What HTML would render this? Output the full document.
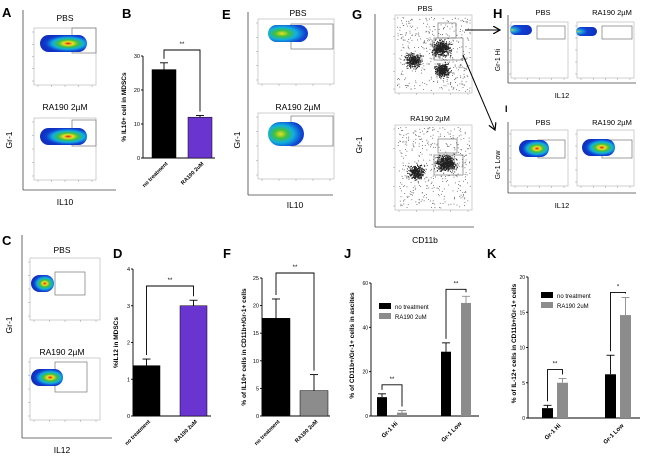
<!DOCTYPE html>
<html><head><meta charset="utf-8">
<style>
html,body{margin:0;padding:0;background:#fff;}
svg{display:block;font-family:"Liberation Sans",Arial,sans-serif;}
</style></head>
<body>
<svg id="fig" width="650" height="457" viewBox="0 0 650 457" xmlns="http://www.w3.org/2000/svg">
<defs>
<radialGradient id="heat" cx="0.6" cy="0.5" r="0.55">
<stop offset="0" stop-color="#e01010"/><stop offset="0.18" stop-color="#f0e020"/><stop offset="0.38" stop-color="#40c040"/><stop offset="0.6" stop-color="#10b0e0"/><stop offset="0.85" stop-color="#1040d0"/><stop offset="1" stop-color="#1030c0"/>
</radialGradient>
<radialGradient id="heatB" cx="0.35" cy="0.5" r="0.6">
<stop offset="0" stop-color="#f0e020"/><stop offset="0.3" stop-color="#40c040"/><stop offset="0.6" stop-color="#10b0e0"/><stop offset="1" stop-color="#1040d0"/>
</radialGradient>
<radialGradient id="heatC" cx="0.1" cy="0.5" r="0.9">
<stop offset="0" stop-color="#e0c020"/><stop offset="0.15" stop-color="#20b0e0"/><stop offset="0.5" stop-color="#1040d0"/><stop offset="1" stop-color="#1030c0"/>
</radialGradient>
<marker id="arr" markerWidth="8" markerHeight="8" refX="7" refY="4" orient="auto"><path d="M0,0 L7,4 L0,8" fill="none" stroke="#000" stroke-width="1.2"/></marker>
</defs>
<g id="root"></g>
</svg>
<script>
// ---- Chart data ----
const bCategories = ["no treatment", "RA190 2uM"];
const bValues = [26, 12];
const bErrors = [2, 0.5];
const bTicks = [0, 10, 20, 30];

const dCategories = ["no treatment", "RA190 2uM"];
const dValues = [1.37, 3.0];
const dErrors = [0.18, 0.15];
const dTicks = [0, 1, 2, 3, 4];

const fCategories = ["no treatment", "RA190 2uM"];
const fValues = [17.7, 4.6];
const fErrors = [3.5, 2.9];
const fTicks = [0, 5, 10, 15, 20, 25];

const jGroups = ["Gr-1 Hi", "Gr-1 Low"];
const jNoTreatment = [8.5, 29];
const jNoTreatmentErr = [1.5, 4];
const jRA190 = [1.5, 51];
const jRA190Err = [1, 3];
const jTicks = [0, 20, 40, 60];

const kGroups = ["Gr-1 Hi", "Gr-1 Low"];
const kNoTreatment = [1.4, 6.2];
const kNoTreatmentErr = [0.4, 2.7];
const kRA190 = [5.0, 14.6];
const kRA190Err = [0.6, 2.5];
const kTicks = [0, 5, 10, 15, 20];

const NS = "http://www.w3.org/2000/svg";
const root = document.getElementById("root");
function el(tag, attrs, parent, text) {
  const e = document.createElementNS(NS, tag);
  for (const k in attrs) e.setAttribute(k, attrs[k]);
  if (text !== undefined) e.textContent = text;
  (parent || root).appendChild(e);
  return e;
}
function grp(name, parent) {
  const g = el("g", {}, parent);
  
  
  return g;
}
function txt(parent, name, x, y, s, size, opts) {
  opts = opts || {};
  const t = el("text", {x: x, y: y, "font-size": size, "text-anchor": opts.anchor || "middle", "font-weight": opts.bold ? "bold" : "normal", fill: opts.fill || "#000"}, parent, s);
  if (opts.rot !== undefined) t.setAttribute("transform", "rotate(" + opts.rot + " " + x + " " + y + ")");
  
  
  return t;
}
function line(parent, x1, y1, x2, y2, w, c) {
  return el("line", {x1: x1, y1: y1, x2: x2, y2: y2, stroke: c || "#000", "stroke-width": w || 1}, parent);
}
let seed = 7;
function rnd() { seed = (seed * 16807) % 2147483647; return seed / 2147483647; }
function gauss() { return (rnd() + rnd() + rnd() - 1.5) / 1.5; }

function flowPlot(parent, name, x, y, w, h, gate) {
  const g = grp(name, parent);
  el("rect", {x: x, y: y, width: w, height: h, fill: "#fff", stroke: "#bbb", "stroke-width": 0.7}, g);
  for (let i = 0; i < 5; i++) {
    line(g, x - 2, y + 4 + i * (h - 8) / 4, x, y + 4 + i * (h - 8) / 4, 0.5, "#999");
    line(g, x + 4 + i * (w - 8) / 4, y + h, x + 4 + i * (w - 8) / 4, y + h + 2, 0.5, "#999");
  }
  if (gate) {
    const r = el("rect", {x: gate[0], y: gate[1], width: gate[2], height: gate[3], fill: "none", stroke: "#777", "stroke-width": 0.7}, g);
    
    
  }
  return g;
}
function blob(g, x, y, w, h, fill) {
  const e = el("rect", {x: x, y: y, width: w, height: h, rx: h / 2, ry: h / 2, fill: fill}, g);
  
  
}
function scatter(g, clusters, bg, box) {
  for (let i = 0; i < bg; i++) {
    el("rect", {x: box[0] + rnd() * box[2], y: box[1] + rnd() * box[3], width: 0.9, height: 0.9, fill: "#666"}, g);
  }
  clusters.forEach(c => {
    for (let i = 0; i < c[4]; i++) {
      el("rect", {x: c[0] + gauss() * c[2], y: c[1] + gauss() * c[3], width: 1, height: 1, fill: "#222"}, g);
    }
  });
}

// ---- Panel A ----
(function () {
  const g = grp("panel-a");
  txt(g, "panel-label-a", 2, 17, "A", 13, {bold: true, anchor: "start"});
  line(g, 23, 10, 23, 190, 0.8, "#444"); line(g, 23, 190, 116, 190, 0.8, "#444");
  txt(g, "title-pbs", 65, 21, "PBS", 8.5);
  const p1 = flowPlot(g, "flow-plot-pbs", 34, 28, 62, 57, [72, 28, 24, 25]);
  blob(p1, 40, 35, 47, 17, "url(#heat)");
  txt(g, "title-ra190", 65, 110, "RA190 2µM", 8.5);
  const p2 = flowPlot(g, "flow-plot-ra190", 34, 118, 62, 62, [72, 120, 24, 26]);
  blob(p2, 40, 128, 47, 17, "url(#heat)");
  txt(g, "y-axis-title", 12, 140, "Gr-1", 8.5, {rot: -90});
  txt(g, "x-axis-title", 65, 205, "IL10", 8.5);
})();

// ---- Panel E ----
(function () {
  const g = grp("panel-e");
  txt(g, "panel-label-e", 222, 19, "E", 13, {bold: true, anchor: "start"});
  line(g, 248, 12, 248, 195, 0.8, "#444"); line(g, 248, 195, 333, 195, 0.8, "#444");
  txt(g, "title-pbs", 298, 16, "PBS", 8.5);
  const p1 = flowPlot(g, "flow-plot-pbs", 258, 19, 76, 65, [291, 24, 42, 25]);
  blob(p1, 268, 25, 40, 17, "url(#heatB)");
  txt(g, "title-ra190", 298, 110, "RA190 2µM", 8.5);
  const p2 = flowPlot(g, "flow-plot-ra190", 258, 113, 76, 66, [291, 116, 42, 30]);
  blob(p2, 268, 122, 36, 24, "url(#heatB)");
  txt(g, "y-axis-title", 240, 140, "Gr-1", 8.5, {rot: -90});
  txt(g, "x-axis-title", 295, 208, "IL10", 8.5);
})();

// ---- Panel G ----
(function () {
  const g = grp("panel-g");
  txt(g, "panel-label-g", 352, 19, "G", 13, {bold: true, anchor: "start"});
  line(g, 375, 14, 375, 227, 0.8, "#444"); line(g, 375, 227, 474, 227, 0.8, "#444");
  txt(g, "title-pbs", 425, 11, "PBS", 7.5);
  const p1 = flowPlot(g, "scatter-plot-pbs", 395, 15, 77, 78, [438, 23, 18, 15]);
  el("rect", {x: 434, y: 38, width: 29, height: 22, fill: "none", stroke: "#777", "stroke-width": 0.7}, p1);
  scatter(p1, [[413, 60, 11, 10, 320], [442, 70, 10, 9, 380], [441, 48, 13, 11, 450]], 420, [397, 17, 73, 74]);
  txt(g, "title-ra190", 430, 121, "RA190 2µM", 7.5);
  const p2 = flowPlot(g, "scatter-plot-ra190", 395, 125, 77, 85, [438, 139, 19, 14]);
  el("rect", {x: 434, y: 155, width: 29, height: 20, fill: "none", stroke: "#777", "stroke-width": 0.7}, p2);
  scatter(p2, [[416, 172, 11, 10, 330], [446, 163, 13, 11, 560]], 420, [397, 127, 73, 81]);
  txt(g, "y-axis-title", 362, 145, "Gr-1", 8.5, {rot: -90});
  txt(g, "x-axis-title", 425, 243, "CD11b", 8.5);
  const a1 = el("line", {x1: 465, y1: 30, x2: 500, y2: 30, stroke: "#000", "stroke-width": 1, "marker-end": "url(#arr)"}, g);
   
  const a2 = el("line", {x1: 463, y1: 55, x2: 495, y2: 130, stroke: "#000", "stroke-width": 1, "marker-end": "url(#arr)"}, g);
   
})();

// ---- Panel H / I ----
(function () {
  const g = grp("panel-h");
  txt(g, "panel-label-h", 493, 18, "H", 13, {bold: true, anchor: "start"});
  line(g, 508, 15, 508, 83, 0.8, "#444"); line(g, 508, 83, 636, 83, 0.8, "#444");
  txt(g, "title-pbs", 543, 15, "PBS", 7.5);
  txt(g, "title-ra190", 612, 15, "RA190 2µM", 7.5);
  const p1 = flowPlot(g, "flow-plot-pbs", 511, 22, 57, 56, [537, 26, 28, 13]);
  blob(p1, 510, 25, 22, 10, "url(#heatC)");
  const p2 = flowPlot(g, "flow-plot-ra190", 577, 22, 57, 56, [602, 26, 30, 13]);
  blob(p2, 576, 27, 21, 9, "url(#heatC)");
  txt(g, "y-axis-title", 500, 60, "Gr-1 Hi", 7, {rot: -90});
  txt(g, "x-axis-title", 562, 98, "IL12", 7.5);
  const gi = grp("panel-i");
  txt(gi, "panel-label-i", 505, 112, "I", 9, {bold: true, anchor: "start"});
  line(gi, 508, 122, 508, 193, 0.8, "#444"); line(gi, 508, 193, 636, 193, 0.8, "#444");
  txt(gi, "title-pbs", 543, 125, "PBS", 7.5);
  txt(gi, "title-ra190", 612, 125, "RA190 2µM", 7.5);
  const q1 = flowPlot(gi, "flow-plot-pbs", 511, 130, 57, 56, [538, 140, 27, 18]);
  blob(q1, 519, 140, 30, 17, "url(#heat)");
  const q2 = flowPlot(gi, "flow-plot-ra190", 577, 130, 57, 56, [602, 140, 30, 18]);
  blob(q2, 582, 139, 33, 17, "url(#heat)");
  txt(gi, "y-axis-title", 500, 165, "Gr-1 Low", 7, {rot: -90});
  txt(gi, "x-axis-title", 562, 208, "IL12", 7.5);
})();

// ---- Panel C ----
(function () {
  const g = grp("panel-c");
  txt(g, "panel-label-c", 2, 245, "C", 13, {bold: true, anchor: "start"});
  line(g, 22, 235, 22, 438, 0.8, "#444"); line(g, 22, 438, 112, 438, 0.8, "#444");
  txt(g, "title-pbs", 62, 253, "PBS", 8.5);
  const p1 = flowPlot(g, "flow-plot-pbs", 30, 258, 70, 62, [55, 272, 30, 23]);
  blob(p1, 31, 275, 23, 17, "url(#heat)");
  txt(g, "title-ra190", 62, 355, "RA190 2µM", 8.5);
  const p2 = flowPlot(g, "flow-plot-ra190", 30, 358, 70, 62, [55, 362, 32, 30]);
  blob(p2, 31, 369, 32, 17, "url(#heat)");
  txt(g, "y-axis-title", 12, 325, "Gr-1", 8.5, {rot: -90});
  txt(g, "x-axis-title", 62, 453, "IL12", 8.5);
})();

function simpleBar(cfg) {
  const g = grp(cfg.name);
  txt(g, "panel-label", cfg.labelX, cfg.labelY, cfg.label, 13, {bold: true, anchor: "start"});
  const max = cfg.ticks[cfg.ticks.length - 1];
  const yS = v => cfg.y0 - (v / max) * (cfg.y0 - cfg.yTop);
  const ax = grp("y-axis", g);
  line(ax, cfg.axX, cfg.yTop, cfg.axX, cfg.y0, 0.9);
  cfg.ticks.forEach(t => {
    line(ax, cfg.axX - 2, yS(t), cfg.axX, yS(t), 0.9);
    txt(ax, "y-tick-label", cfg.axX - 3, yS(t) + 2, String(t), 5.5, {anchor: "end"});
  });
  line(g, cfg.axX, cfg.y0, cfg.axX + cfg.width, cfg.y0, 0.9);
  txt(g, "y-axis-title", cfg.titleX, (cfg.yTop + cfg.y0) / 2, cfg.title, 6.5, {rot: -90, bold: true});
  const tops = [];
  cfg.values.forEach((v, i) => {
    const x = cfg.axX + cfg.barStart + i * cfg.barGap;
    const b = el("rect", {x: x, y: yS(v), width: cfg.barW, height: cfg.y0 - yS(v), fill: cfg.colors[i], stroke: "#000", "stroke-width": 0.5}, g);
    
    
    const cx = x + cfg.barW / 2, et = yS(v + cfg.errors[i]);
    line(g, cx, yS(v), cx, et, 0.9); line(g, cx - 4, et, cx + 4, et, 0.9);
    tops.push([cx, et]);
    txt(g, "x-tick-label", cx + 4, cfg.y0 + 6, cfg.categories[i], 5.5, {anchor: "end", rot: -45, bold: true});
  });
  const by = cfg.bracketY;
  const br = grp("significance-bracket", g);
  el("path", {d: `M${tops[0][0]},${tops[0][1] - 4} V${by} H${tops[1][0]} V${tops[1][1] - 4}`, fill: "none", stroke: "#000", "stroke-width": 0.9}, br);
  txt(br, "significance-stars", (tops[0][0] + tops[1][0]) / 2, by - 4, "**", 6);
}
function groupBar(cfg) {
  const g = grp(cfg.name);
  txt(g, "panel-label", cfg.labelX, cfg.labelY, cfg.label, 13, {bold: true, anchor: "start"});
  const max = cfg.ticks[cfg.ticks.length - 1];
  const yS = v => cfg.y0 - (v / max) * (cfg.y0 - cfg.yTop);
  const ax = grp("y-axis", g);
  line(ax, cfg.axX, cfg.yTop, cfg.axX, cfg.y0, 0.9);
  cfg.ticks.forEach(t => {
    line(ax, cfg.axX - 2, yS(t), cfg.axX, yS(t), 0.9);
    txt(ax, "y-tick-label", cfg.axX - 3, yS(t) + 2, String(t), 5, {anchor: "end"});
  });
  line(g, cfg.axX, cfg.y0, cfg.axX + cfg.width, cfg.y0, 0.9);
  txt(g, "y-axis-title", cfg.titleX, (cfg.yTop + cfg.y0) / 2 - 4, cfg.title, 6.5, {rot: -90, bold: true});
  const series = [[cfg.s1, cfg.e1, "#000"], [cfg.s2, cfg.e2, "#8c8c8c"]];
  cfg.groups.forEach((gname, gi) => {
    const tops = [];
    series.forEach((s, si) => {
      const x = cfg.axX + cfg.groupStart + gi * cfg.groupGap + si * (cfg.barW + cfg.inner);
      const v = s[0][gi];
      const b = el("rect", {x: x, y: yS(v), width: cfg.barW, height: cfg.y0 - yS(v), fill: s[2]}, g);
      
      
      const cx = x + cfg.barW / 2, et = yS(v + s[1][gi]);
      line(g, cx, yS(v), cx, et, 0.9, s[2]); line(g, cx - 4, et, cx + 4, et, 0.9, s[2]);
      tops.push([cx, et]);
    });
    const mid = (tops[0][0] + tops[1][0]) / 2;
    txt(g, "x-tick-label", mid + 6, cfg.y0 + 8, gname, 6, {anchor: "end", rot: -45, bold: true});
    const by = Math.min(tops[0][1], tops[1][1]) - cfg.bracketPad[gi];
    const br = grp("significance-bracket", g);
    el("path", {d: `M${tops[0][0]},${tops[0][1] - 4} V${by} H${tops[1][0]} V${tops[1][1] - 4}`, fill: "none", stroke: "#000", "stroke-width": 0.9}, br);
    txt(br, "significance-stars", mid, by - 4, cfg.stars[gi], 6);
  });
  const lg = grp("legend", g);
  [["no treatment", "#000"], ["RA190 2uM", "#8c8c8c"]].forEach((l, i) => {
    const e = grp("legend-entry", lg);
    el("rect", {x: cfg.legX, y: cfg.legY + i * 10, width: 12, height: 6, fill: l[1]}, e);
    txt(e, "legend-label", cfg.legX + 16, cfg.legY + i * 10 + 6, l[0], 6, {anchor: "start"});
  });
}

simpleBar({name: "panel-b-chart", label: "B", labelX: 122, labelY: 18, axX: 143, yTop: 56, y0: 158, width: 72,
  ticks: bTicks, values: bValues, errors: bErrors, categories: bCategories, colors: ["#000", "#6a34d0"],
  barStart: 9, barGap: 36, barW: 24, bracketY: 50, title: "% IL10+ cell in MDSCs", titleX: 126});
simpleBar({name: "panel-d-chart", label: "D", labelX: 113, labelY: 258, axX: 133, yTop: 269, y0: 416, width: 78,
  ticks: dTicks, values: dValues, errors: dErrors, categories: dCategories, colors: ["#000", "#6a34d0"],
  barStart: 0, barGap: 47, barW: 27, bracketY: 286, title: "%IL12 in MDSCs", titleX: 118});
simpleBar({name: "panel-f-chart", label: "F", labelX: 223, labelY: 258, axX: 262, yTop: 278, y0: 416, width: 68,
  ticks: fTicks, values: fValues, errors: fErrors, categories: fCategories, colors: ["#000", "#8c8c8c"],
  barStart: 0, barGap: 38, barW: 28, bracketY: 273, title: "% of IL10+ cells in CD11b+/Gr-1+ cells", titleX: 246});
groupBar({name: "panel-j-chart", label: "J", labelX: 344, labelY: 258, axX: 371, yTop: 283, y0: 416, width: 108,
  ticks: jTicks, groups: jGroups, s1: jNoTreatment, e1: jNoTreatmentErr, s2: jRA190, e2: jRA190Err,
  groupStart: 6, groupGap: 64, barW: 10, inner: 10, bracketPad: [9, 7], stars: ["**", "**"],
  legX: 379, legY: 303, title: "% of CD11b+/Gr-1+ cells in ascites", titleX: 354});
groupBar({name: "panel-k-chart", label: "K", labelX: 487, labelY: 258, axX: 528, yTop: 277, y0: 418, width: 112,
  ticks: kTicks, groups: kGroups, s1: kNoTreatment, e1: kNoTreatmentErr, s2: kRA190, e2: kRA190Err,
  groupStart: 14, groupGap: 63, barW: 11, inner: 4, bracketPad: [9, 5], stars: ["**", "*"],
  legX: 541, legY: 292, title: "% of IL-12+ cells in CD11b+/Gr-1+ cells", titleX: 516});
</script>
</body></html>
